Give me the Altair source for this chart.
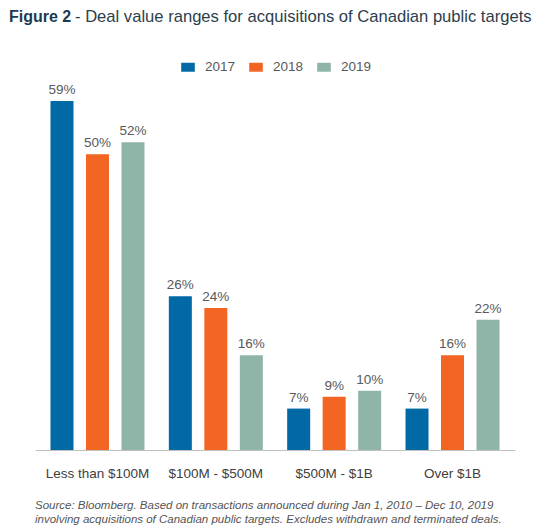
import altair as alt
import pandas as pd

categories = ["Less than $100M", "$100M - $500M", "$500M - $1B", "Over $1B"]
years = ["2017", "2018", "2019"]
values_2017 = [59, 26, 7, 7]
values_2018 = [50, 24, 9, 16]
values_2019 = [52, 16, 10, 22]
colors = ["#0069a6", "#f26522", "#8fb5a9"]

title_bold = "Figure 2"
title_rest = "- Deal value ranges for acquisitions of Canadian public targets"
source_lines = [
    "Source: Bloomberg. Based on transactions announced during Jan 1, 2010 \u2013 Dec 10, 2019",
    "involving acquisitions of Canadian public targets. Excludes withdrawn and terminated deals.",
]

rows = []
for yr, vals in zip(years, [values_2017, values_2018, values_2019]):
    for c, v in zip(categories, vals):
        rows.append({"category": c, "year": yr, "value": v, "label": f"{v}%"})
df = pd.DataFrame(rows)

FONT = "Liberation Sans"

x = alt.X("category:N", sort=categories, title=None,
          scale=alt.Scale(paddingInner=0, paddingOuter=0.028),
          axis=alt.Axis(labelAngle=0, ticks=False, domainColor="#c0c0c0", domainWidth=1,
                        labelFont=FONT, labelFontSize=13.5, labelColor="#404040",
                        labelPadding=16, grid=False))
xoff = alt.XOffset("year:N", sort=years,
                   scale=alt.Scale(paddingInner=0.352, paddingOuter=0.343))
y = alt.Y("value:Q", scale=alt.Scale(domain=[0, 60]), axis=None)

bars = alt.Chart(df).mark_bar().encode(
    x=x, xOffset=xoff, y=y,
    color=alt.Color("year:N", sort=years,
                    scale=alt.Scale(domain=years, range=colors),
                    legend=alt.Legend(title=None, orient="none", direction="horizontal",
                                      legendX=146, legendY=-35,
                                      symbolType="M-1,-0.66H1V0.66H-1Z", symbolSize=185,
                                      symbolStrokeWidth=0, symbolOpacity=1,
                                      labelFont=FONT, labelFontSize=13.5, labelColor="#595959",
                                      labelOffset=10, columnPadding=13)),
)

labels = alt.Chart(df).mark_text(font=FONT, fontSize=13.5, color="#595959",
                                 baseline="alphabetic", dy=-7).encode(
    x=x, xOffset=xoff, y=y, text="label:N"
)

title_df = pd.DataFrame({"t": [title_bold]})
title_df2 = pd.DataFrame({"t": [title_rest]})
t1 = alt.Chart(title_df).mark_text(font=FONT, fontSize=16, fontWeight="bold", color="#1b3b52",
                                   align="left", baseline="alphabetic").encode(
    x=alt.value(-26), y=alt.value(-73), text="t:N")
t2 = alt.Chart(title_df2).mark_text(font=FONT, fontSize=16.6, color="#2c3e4c",
                                    align="left", baseline="alphabetic").encode(
    x=alt.value(40), y=alt.value(-73), text="t:N")

src1 = alt.Chart(pd.DataFrame({"t": [source_lines[0]]})).mark_text(
    font=FONT, fontSize=11.5, fontStyle="italic", color="#555555",
    align="left", baseline="alphabetic").encode(x=alt.value(0), y=alt.value(414), text="t:N")
src2 = alt.Chart(pd.DataFrame({"t": [source_lines[1]]})).mark_text(
    font=FONT, fontSize=11.5, fontStyle="italic", color="#555555",
    align="left", baseline="alphabetic").encode(x=alt.value(0), y=alt.value(428), text="t:N")

chart = alt.layer(bars, labels, t1, t2, src1, src2).properties(
    width=480, height=355,
    autosize=alt.AutoSizeParams(type="none"),
    padding={"left": 27, "top": 87, "right": 26, "bottom": 80},
).configure(background="white").configure_view(stroke=None, strokeWidth=0)

chart.save("out.html", embed_options={"renderer": "svg", "actions": False})
